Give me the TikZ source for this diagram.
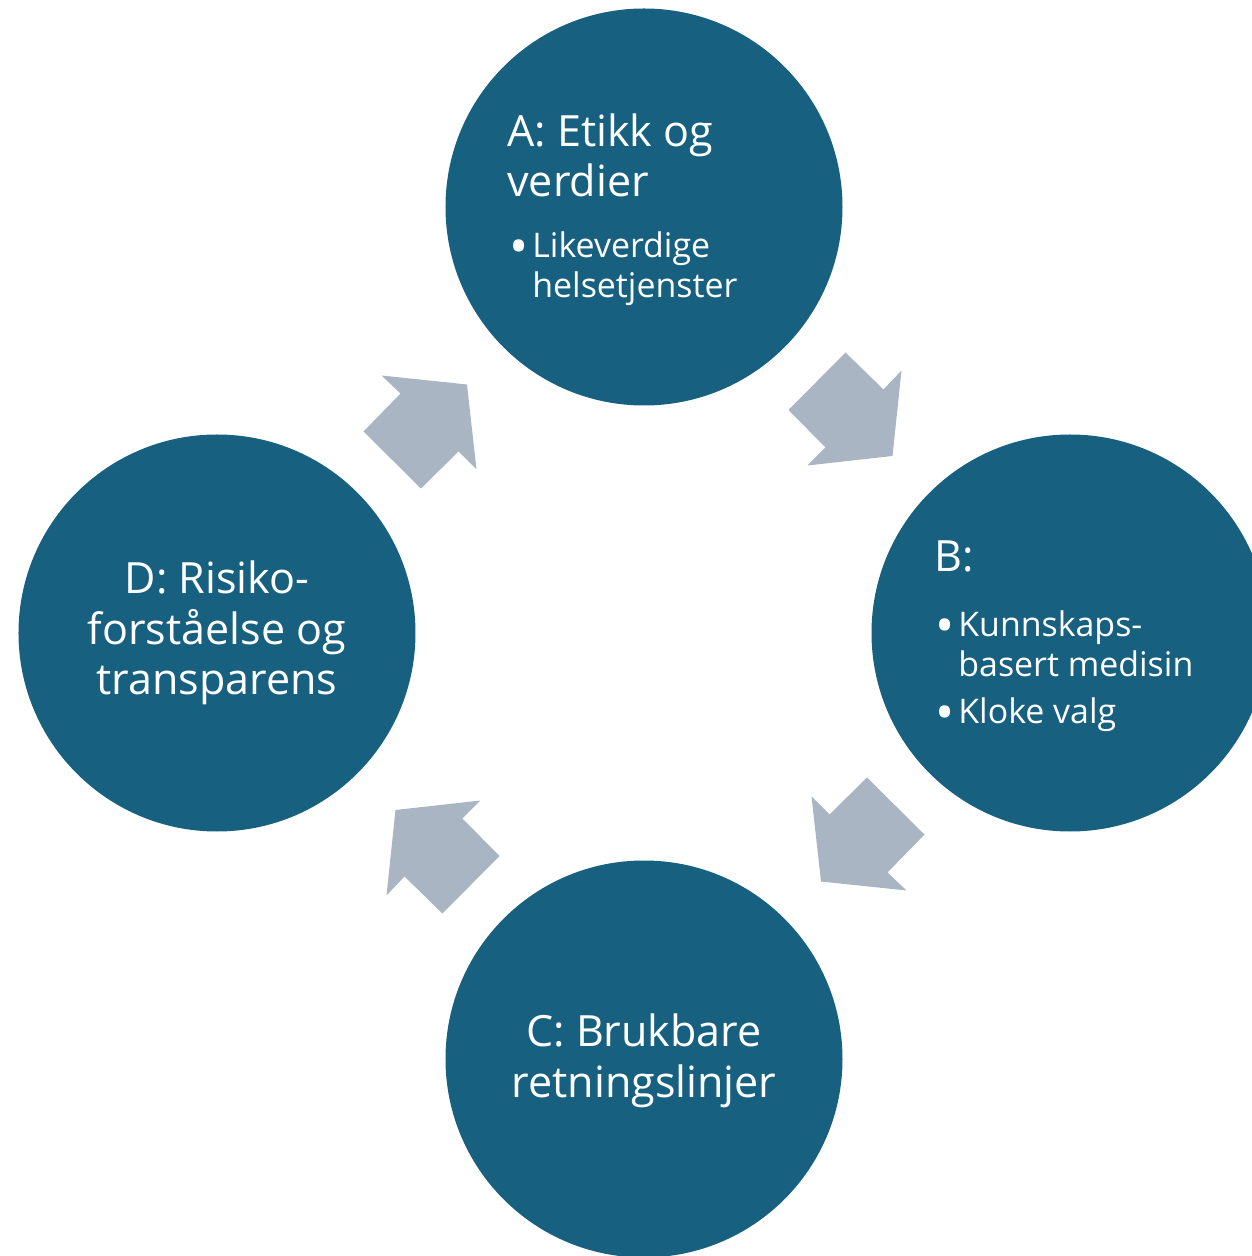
\documentclass[tikz,border=0pt]{standalone}
\usepackage{fontspec}
\setmainfont{Open Sans}
\definecolor{circblue}{HTML}{17607F}
\definecolor{arrowgray}{HTML}{A9B5C2}
\newcommand{\bigdot}{\raisebox{-0.2em}{\scalebox{1.5}{\textbullet}}}

\begin{document}
\begin{tikzpicture}[
    topic/.style={circle, fill=circblue, minimum size=7.94cm, inner sep=0pt},
    title/.style={text=white, font=\fontsize{24.5}{29}\selectfont, inner sep=0pt},
    bullets/.style={text=white, font=\fontsize{19.3}{22.7}\selectfont, inner sep=0pt},
  ]
  \useasboundingbox (-12.88,-12.46) rectangle (12.14,12.66);

  % the four circles
  \node[topic] (a) at (0,8.52) {};
  \node[topic] (b) at (8.52,0) {};
  \node[topic] (c) at (0,-8.52) {};
  \node[topic] (d) at (-8.54,0) {};

  % block arrows, one shape turned round the middle
  \foreach \ang in {0,-90,-180,-270}
    \fill[arrowgray, rotate=\ang] (4.03,5.61) -- (4.79,4.87) -- (5.15,5.25) -- (4.97,3.54)
      -- (3.27,3.35) -- (3.63,3.71) -- (2.89,4.46) -- cycle;

  % texts (base = last line)
  \node[title, align=left, anchor=base west] (a title) at ([shift={(-2.74,0.2)}]a.center) {A: Etikk og\\verdier};
  \node[bullets, anchor=base west] (a list) at ([shift={(-2.7,-1.02)}]a.center)
    {\begin{tabular}[t]{@{}p{0.46cm}@{}l@{}}\bigdot & Likeverdige\\ & helsetjenster\end{tabular}};

  \node[title, anchor=base west] (b title) at ([shift={(-2.72,1.22)}]b.center) {B:};
  \node[bullets, anchor=base west] (b list) at ([shift={(-2.7,-0.08)}]b.center)
    {\begin{tabular}[t]{@{}p{0.46cm}@{}l@{}}\bigdot & Kunnskaps-\\ & basert medisin\\[0.14cm] \bigdot & Kloke valg\end{tabular}};

  \node[title, align=center, anchor=base] (c title) at ([shift={(0,-0.76)}]c.center) {C: Brukbare\\retningslinjer};
  \node[title, align=center, anchor=base] (d title) at ([shift={(0,-1.24)}]d.center) {D: Risiko-\\forståelse og\\transparens};
\end{tikzpicture}
\end{document}
